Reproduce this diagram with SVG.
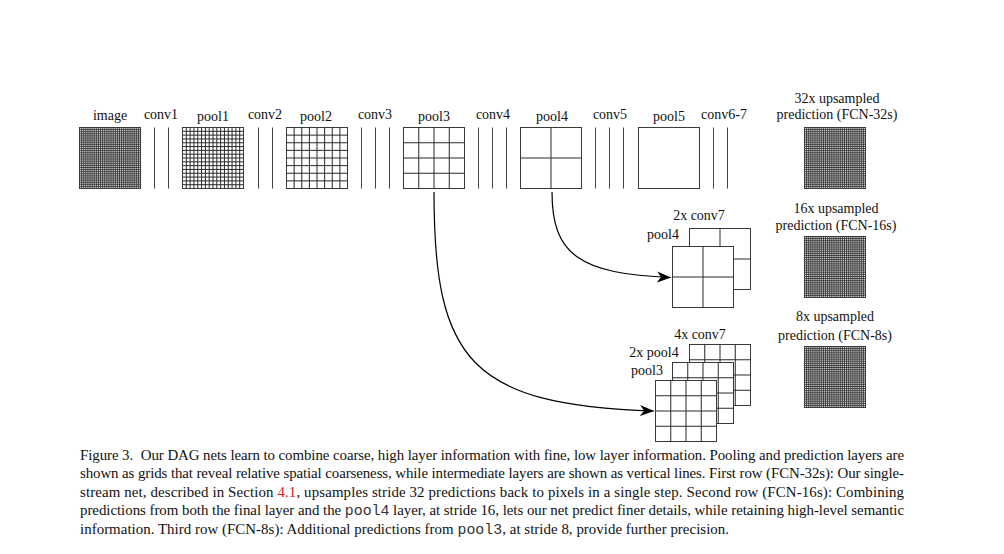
<svg xmlns="http://www.w3.org/2000/svg" xmlns:xlink="http://www.w3.org/1999/xlink" width="1004" height="554" viewBox="0 0 1004 554">
<style>
.lbl{font-family:"Liberation Serif","Times New Roman",serif;font-size:14px;fill:#111;text-anchor:middle}
.cap{font-family:"Liberation Serif","Times New Roman",serif;font-size:14.9px;fill:#111}
.mono{font-family:"Liberation Mono","Courier New",monospace;fill:#333}
.ref{fill:#e8202a}
.bd{fill:none;stroke:#3a3a3a;stroke-width:1}
.vl{stroke:#444;stroke-width:1}
.gl{fill:none;stroke:#2a2a2a;stroke-width:1}
.d32{fill:none;stroke:#1a1a1a;stroke-width:0.75}
.arr{fill:none;stroke:#000;stroke-width:1.2}
</style>
<defs>
<g id="g32">
<rect x="0" y="0" width="61" height="61" fill="#fff"/>
<path class="d32" d="M1.90625,0v61m1.90625,-61v61m1.90625,-61v61m1.90625,-61v61m1.90625,-61v61m1.90625,-61v61m1.90625,-61v61m1.90625,-61v61m1.90625,-61v61m1.90625,-61v61m1.90625,-61v61m1.90625,-61v61m1.90625,-61v61m1.90625,-61v61m1.90625,-61v61m1.90625,-61v61m1.90625,-61v61m1.90625,-61v61m1.90625,-61v61m1.90625,-61v61m1.90625,-61v61m1.90625,-61v61m1.90625,-61v61m1.90625,-61v61m1.90625,-61v61m1.90625,-61v61m1.90625,-61v61m1.90625,-61v61m1.90625,-61v61m1.90625,-61v61m1.90625,-61v61"/>
<path class="d32" d="M0,1.90625h61m-61,1.90625h61m-61,1.90625h61m-61,1.90625h61m-61,1.90625h61m-61,1.90625h61m-61,1.90625h61m-61,1.90625h61m-61,1.90625h61m-61,1.90625h61m-61,1.90625h61m-61,1.90625h61m-61,1.90625h61m-61,1.90625h61m-61,1.90625h61m-61,1.90625h61m-61,1.90625h61m-61,1.90625h61m-61,1.90625h61m-61,1.90625h61m-61,1.90625h61m-61,1.90625h61m-61,1.90625h61m-61,1.90625h61m-61,1.90625h61m-61,1.90625h61m-61,1.90625h61m-61,1.90625h61m-61,1.90625h61m-61,1.90625h61m-61,1.90625h61"/>
<rect class="bd" x="0" y="0" width="61" height="61"/>
</g>
<g id="g16">
<rect x="0" y="0" width="61" height="61" fill="#fff"/>
<path class="gl" d="M3.8125,0v61m3.8125,-61v61m3.8125,-61v61m3.8125,-61v61m3.8125,-61v61m3.8125,-61v61m3.8125,-61v61m3.8125,-61v61m3.8125,-61v61m3.8125,-61v61m3.8125,-61v61m3.8125,-61v61m3.8125,-61v61m3.8125,-61v61m3.8125,-61v61M0,3.8125h61m-61,3.8125h61m-61,3.8125h61m-61,3.8125h61m-61,3.8125h61m-61,3.8125h61m-61,3.8125h61m-61,3.8125h61m-61,3.8125h61m-61,3.8125h61m-61,3.8125h61m-61,3.8125h61m-61,3.8125h61m-61,3.8125h61m-61,3.8125h61"/>
<rect class="bd" x="0" y="0" width="61" height="61"/>
</g>
<g id="g8">
<rect x="0" y="0" width="61" height="61" fill="#fff" stroke="#3a3a3a"/>
<path class="gl" d="M7.625,0v61m7.625,-61v61m7.625,-61v61m7.625,-61v61m7.625,-61v61m7.625,-61v61m7.625,-61v61M0,7.625h61m-61,7.625h61m-61,7.625h61m-61,7.625h61m-61,7.625h61m-61,7.625h61m-61,7.625h61"/>
</g>
<g id="g4">
<rect x="0" y="0" width="61" height="61" fill="#fff" stroke="#3a3a3a"/>
<path class="gl" d="M15.25,0V61M30.5,0V61M45.75,0V61M0,15.25H61M0,30.5H61M0,45.75H61"/>
</g>
<g id="g2">
<rect x="0" y="0" width="61" height="61" fill="#fff" stroke="#3a3a3a"/>
<path class="gl" d="M30.5,0V61M0,30.5H61"/>
</g>
<marker id="ah" markerUnits="userSpaceOnUse" markerWidth="16" markerHeight="12" refX="14" refY="6" orient="auto">
<path d="M14,6 L0,0.5 L4,6 L0,11.5 Z" fill="#000"/>
</marker>
</defs>
<rect width="1004" height="554" fill="#fff"/>

<g id="image">
<text class="lbl" x="110" y="120">image</text>
<use xlink:href="#g32" x="79.5" y="127.5"/>
</g>
<g id="conv1">
<text class="lbl" x="161" y="119">conv1</text>
<path class="vl" d="M154.5,127.5V188.5M168.5,127.5V188.5"/>
</g>
<g id="pool1">
<text class="lbl" x="213" y="121">pool1</text>
<use xlink:href="#g16" x="182.5" y="127.5"/>
</g>
<g id="conv2">
<text class="lbl" x="265" y="119">conv2</text>
<path class="vl" d="M258.5,127.5V188.5M272.5,127.5V188.5"/>
</g>
<g id="pool2">
<text class="lbl" x="316" y="121">pool2</text>
<use xlink:href="#g8" x="286.5" y="127.5"/>
</g>
<g id="conv3">
<text class="lbl" x="375" y="119">conv3</text>
<path class="vl" d="M361.5,127.5V188.5M375.5,127.5V188.5M389.5,127.5V188.5"/>
</g>
<g id="pool3">
<text class="lbl" x="434" y="121">pool3</text>
<use xlink:href="#g4" x="403.5" y="127.5"/>
</g>
<g id="conv4">
<text class="lbl" x="493" y="119">conv4</text>
<path class="vl" d="M478.5,127.5V188.5M492.5,127.5V188.5M506.5,127.5V188.5"/>
</g>
<g id="pool4">
<text class="lbl" x="552" y="121">pool4</text>
<use xlink:href="#g2" x="520.5" y="127.5"/>
</g>
<g id="conv5">
<text class="lbl" x="610" y="119">conv5</text>
<path class="vl" d="M595.5,127.5V188.5M609.5,127.5V188.5M623.5,127.5V188.5"/>
</g>
<g id="pool5">
<text class="lbl" x="669" y="121">pool5</text>
<rect class="bd" x="638.5" y="127.5" width="61" height="61" fill="#fff"/>
</g>
<g id="conv6-7">
<text class="lbl" x="724" y="119">conv6-7</text>
<path class="vl" d="M713.5,127.5V188.5M727.5,127.5V188.5"/>
</g>
<g id="pred32">
<text class="lbl" x="837" y="102.5">32x upsampled</text>
<text class="lbl" x="837" y="118.5">prediction (FCN-32s)</text>
<use xlink:href="#g32" x="804.5" y="127.5"/>
</g>

<g id="stack16">
<text class="lbl" x="699" y="220">2x conv7</text>
<text class="lbl" x="663" y="239">pool4</text>
<use xlink:href="#g2" x="689.5" y="228.5"/>
<use xlink:href="#g2" x="672.5" y="246.5"/>
</g>
<g id="pred16">
<text class="lbl" x="836" y="212.5">16x upsampled</text>
<text class="lbl" x="836" y="229.5">prediction (FCN-16s)</text>
<use xlink:href="#g32" x="804.5" y="236.5"/>
</g>

<g id="stack8">
<text class="lbl" x="700" y="338.5">4x conv7</text>
<text class="lbl" x="654" y="356.5">2x pool4</text>
<text class="lbl" x="647" y="374.5">pool3</text>
<use xlink:href="#g4" x="689.5" y="344.5"/>
<use xlink:href="#g4" x="672.5" y="362.5"/>
<use xlink:href="#g4" x="655.5" y="380.5"/>
</g>
<g id="pred8">
<text class="lbl" x="835" y="321">8x upsampled</text>
<text class="lbl" x="835" y="339.5">prediction (FCN-8s)</text>
<use xlink:href="#g32" x="804.5" y="346.5"/>
</g>

<g id="connectors">
<path class="arr" d="M552,192 C552,255 580,274 671,277.5" marker-end="url(#ah)"/>
<path class="arr" d="M434,192 C434,360 470,405 654,411" marker-end="url(#ah)"/>
</g>

<g id="caption">
<text class="cap" x="80" y="459.5" textLength="824" lengthAdjust="spacing">Figure 3. <tspan dx="4">Our DAG nets learn to combine coarse, high layer information with fine, low layer information. Pooling and prediction layers are</tspan></text>
<text class="cap" x="80" y="478" textLength="824" lengthAdjust="spacing">shown as grids that reveal relative spatial coarseness, while intermediate layers are shown as vertical lines. First row (FCN-32s): Our single-</text>
<text class="cap" x="80" y="496.5" textLength="824" lengthAdjust="spacing">stream net, described in Section <tspan class="ref">4.1</tspan>, upsamples stride 32 predictions back to pixels in a single step. Second row (FCN-16s): Combining</text>
<text class="cap" x="80" y="515" textLength="824" lengthAdjust="spacing">predictions from both the final layer and the <tspan class="mono">pool4</tspan> layer, at stride 16, lets our net predict finer details, while retaining high-level semantic</text>
<text class="cap" x="80" y="533.5" textLength="649" lengthAdjust="spacing">information. Third row (FCN-8s): Additional predictions from <tspan class="mono">pool3</tspan>, at stride 8, provide further precision.</text>
</g>
</svg>
